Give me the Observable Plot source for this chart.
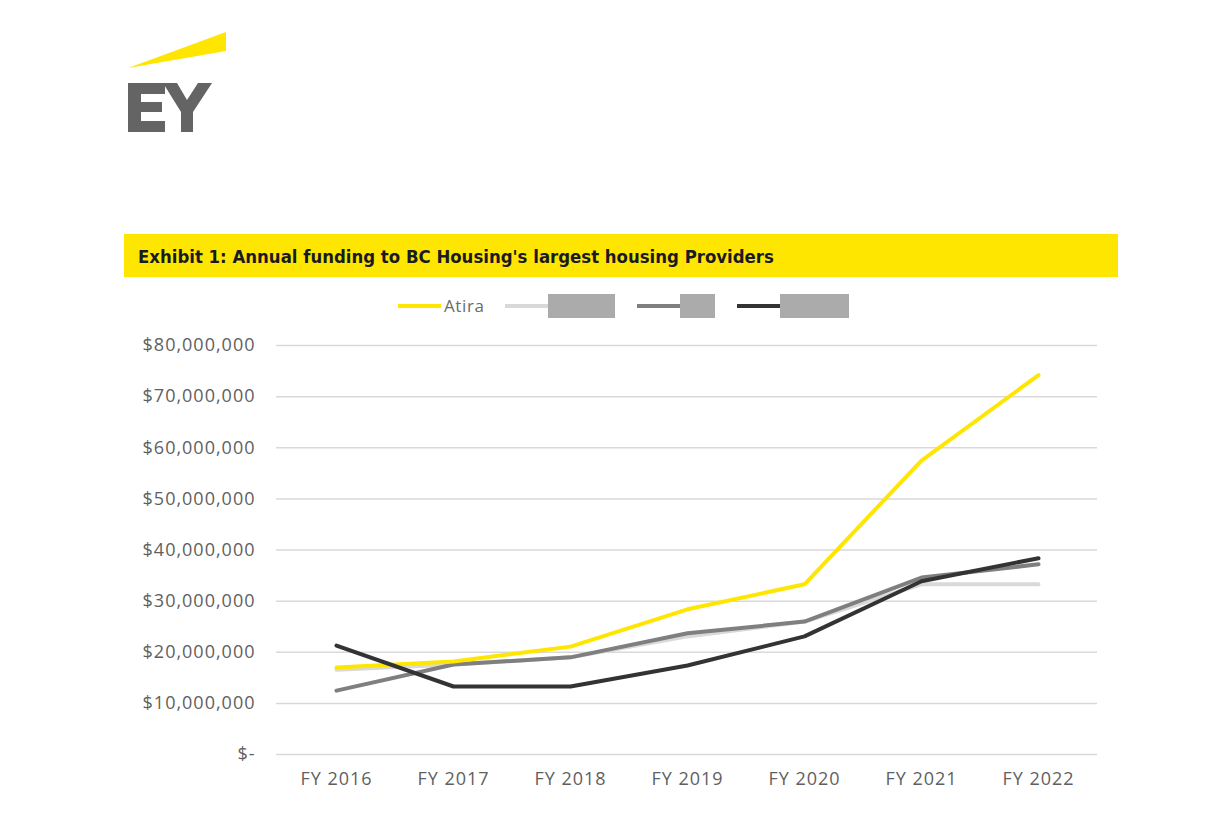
<!DOCTYPE html>
<html><head><meta charset="utf-8">
<script src="https://cdn.jsdelivr.net/npm/d3@7"></script>
<script src="https://cdn.jsdelivr.net/npm/@observablehq/plot@0.6"></script>
<style>
body{margin:0;background:#fff;width:1230px;height:823px;position:relative;overflow:hidden;font-family:"Open Sans",sans-serif;}
#logo{position:absolute;left:0;top:0;}
#title{position:absolute;left:124px;top:234px;width:994px;height:43px;background:#FFE600;}
#title span{position:absolute;left:14px;top:12px;font-family:"DejaVu Sans Condensed","DejaVu Sans",sans-serif;font-weight:bold;font-size:18.4px;color:#1a1a24;white-space:nowrap;}
#legend{position:absolute;left:0;top:0;}
.sw{position:absolute;height:4px;}
.lab{position:absolute;font-size:17px;letter-spacing:0.6px;color:#6b6b6b;}
.box{position:absolute;background:#ababab;}
#chart{position:absolute;left:0;top:330px;}
#chart text{letter-spacing:1px;}
</style></head>
<body>
<svg id="logo" width="240" height="150">
  <polygon points="128,68 226,32 226,51" fill="#FFE600"/>
  <polygon points="128,83 165,83 165,94 141,94 141,102 162,102 162,112 141,112 141,121 165,121 165,132 128,132" fill="#646464"/>
  <polygon points="163,83 177,83 187,100 198,83 212,83 193,112 193,132 181,132 181,112" fill="#646464"/>
</svg>
<div id="title"><span>Exhibit 1: Annual funding to BC Housing's largest housing Providers</span></div>
<div id="legend"></div>
<div id="chart"></div>
<script>
const years = ["FY 2016","FY 2017","FY 2018","FY 2019","FY 2020","FY 2021","FY 2022"];
const seriesNames = ["Atira","Provider B","Provider C","Provider D"];
const seriesColors = ["#FFE600","#D9D9D9","#7F7F7F","#333333"];
const atira     = [17.0, 18.2, 21.1, 28.4, 33.3, 57.5, 74.2];
const providerB = [16.6, 17.6, 19.0, 23.1, 26.0, 33.3, 33.3];
const providerC = [12.5, 17.6, 19.0, 23.7, 26.0, 34.6, 37.2];
const providerD = [21.3, 13.3, 13.3, 17.4, 23.1, 33.9, 38.4];
const yTicks = [0,10,20,30,40,50,60,70,80];

const rows = [];
const all = [atira, providerB, providerC, providerD];
// draw order: light gray, mid gray, yellow, dark
const drawOrder = [1,2,0,3];
drawOrder.forEach(si => years.forEach((y,i) => rows.push({series: seriesNames[si], year: y, value: all[si][i]*1e6})));

const fmt = v => v === 0 ? "$-" : "$" + d3.format(",")(v);

const chart = Plot.plot({
  width: 1230, height: 480,
  marginLeft: 276, marginRight: 133, marginTop: 15, marginBottom: 56,
  style: {fontFamily: "'Open Sans', sans-serif", fontSize: "18px", color: "#5f5f5f", background: "transparent"},
  x: {type: "point", domain: years, padding: 0.5, label: null},
  y: {domain: [0, 80e6], label: null},
  color: {domain: seriesNames, range: seriesColors},
  marks: [
    Plot.ruleY(yTicks.map(d => d*1e6), {stroke: "#d9d9d9", strokeWidth: 1.5}),
    Plot.axisY(yTicks.map(d => d*1e6), {tickSize: 0, tickPadding: 21, tickFormat: fmt, fill: "#5f5f5f", fontSize: 18, label: null}),
    Plot.axisX({tickSize: 0, tickPadding: 18, fill: "#5f5f5f", fontSize: 18, label: null}),
    Plot.line(rows, {x: "year", y: "value", z: "series", stroke: "series", strokeWidth: 4, strokeLinejoin: "round", strokeLinecap: "round"})
  ]
});
document.getElementById("chart").appendChild(chart);

// legend
const leg = document.getElementById("legend");
const legSpec = [
  {line: 398, box: null, w: 0},
  {line: 505, box: 548, w: 67},
  {line: 637, box: 680, w: 35},
  {line: 737, box: 780, w: 69}
];
seriesNames.forEach((n, i) => {
  const s = legSpec[i];
  const sw = document.createElement("div");
  sw.className = "sw"; sw.style.left = s.line + "px"; sw.style.top = "304px"; sw.style.width = "43px"; sw.style.background = seriesColors[i];
  leg.appendChild(sw);
  if (s.box === null) {
    const t = document.createElement("div");
    t.className = "lab"; t.textContent = n; t.style.left = "444px"; t.style.top = "294px";
    leg.appendChild(t);
  } else {
    const b = document.createElement("div");
    b.className = "box"; b.style.left = s.box + "px"; b.style.top = "294px"; b.style.width = s.w + "px"; b.style.height = "24px";
    b.title = n;
    leg.appendChild(b);
  }
});
</script>
</body></html>
